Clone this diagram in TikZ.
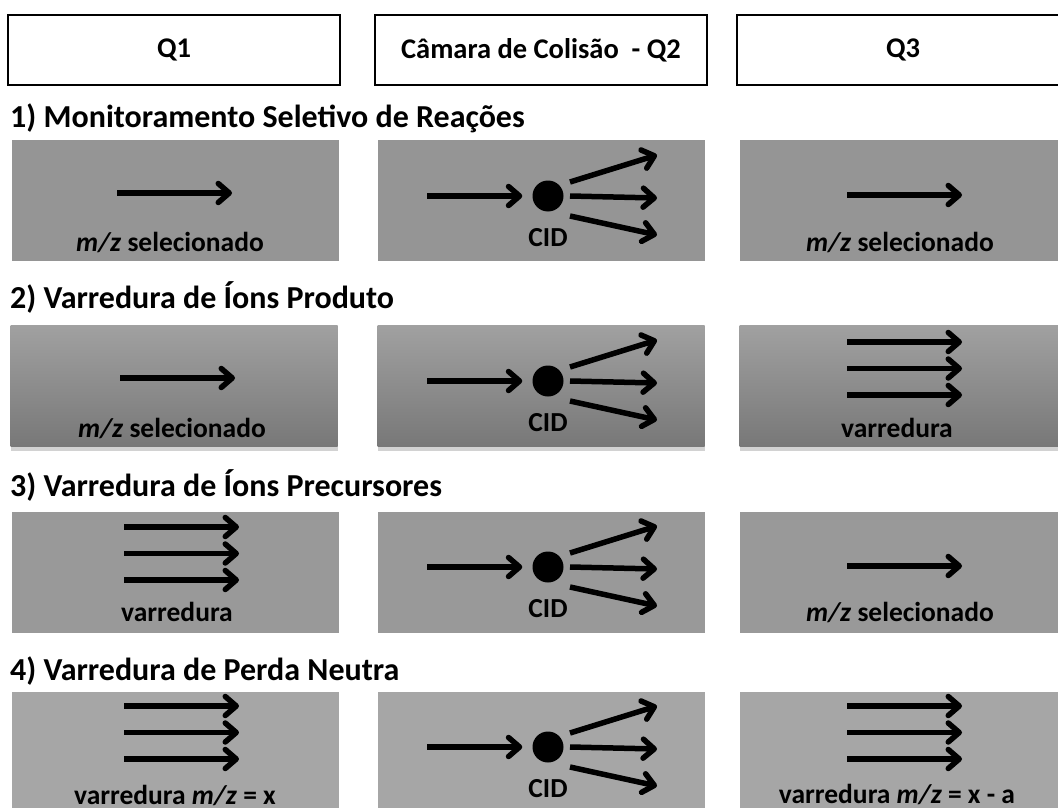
\documentclass[tikz,border=0pt]{standalone}
\usepackage{fontspec}
\setmainfont{Carlito}
\usetikzlibrary{arrows.meta,shadows}
\definecolor{rowone}{gray}{0.585}
\definecolor{rowtwotop}{gray}{0.63}
\definecolor{rowtwobot}{gray}{0.47}
\definecolor{rowthree}{gray}{0.60}
\definecolor{rowfour}{gray}{0.65}
\tikzset{
  arr/.style={line width=5.5pt,-{Straight Barb[line join=round,line cap=round,length=11pt,width=19pt]}},
  hdr/.style={draw=black,line width=2.5pt,fill=white,minimum width=332pt,minimum height=70pt,inner sep=0pt,font=\fontsize{28.5}{33}\selectfont\bfseries},
  heading/.style={anchor=west,inner sep=0pt,font=\fontsize{32}{37}\selectfont\bfseries},
  panel/.style={inner sep=0pt,minimum width=327pt,minimum height=121pt},
  flatpanel/.style={panel,fill=#1},
  gradpanel/.style={panel,top color=rowtwotop,bottom color=rowtwobot,drop shadow={shadow xshift=0pt,shadow yshift=-4pt,opacity=0.35}},
  lbl/.style={inner sep=0pt,font=\fontsize{27.5}{32}\selectfont\bfseries},
  dot/.style={circle,fill=black,inner sep=0pt,minimum size=31pt},
  pics/onearrow/.style={code={
    \coordinate (-s) at (-58,0);
    \coordinate (-e) at (57,0);
    \draw[arr] (-s) -- (-e);
  }},
  pics/threearrow/.style={code={
    \foreach \k/\dy in {a/0,b/26.5,c/53}{
      \coordinate (-s\k) at (-58,\dy);
      \coordinate (-e\k) at (57,\dy);
      \draw[arr] (-s\k) -- (-e\k);
    }
  }},
  pics/cid/.style={code={
    \node[dot] (-dot) at (6,0) {};
    \coordinate (-in) at (-115,0);
    \draw[arr,shorten >=10pt] (-in) -- (-dot.west);
    \coordinate (-ua) at (28,-14);  \coordinate (-ub) at (115,-41);
    \coordinate (-ma) at (28,0);    \coordinate (-mb) at (115,2);
    \coordinate (-la) at (28,20);   \coordinate (-lb) at (115,39);
    \draw[arr] (-ua) -- (-ub);
    \draw[arr] (-ma) -- (-mb);
    \draw[arr] (-la) -- (-lb);
    \node[lbl] (-lab) at (6,42) {CID};
  }}
}
\begin{document}
\begin{tikzpicture}[x=1pt,y=-1pt]
\useasboundingbox (0,0) rectangle (1058,808);
\clip (0,0) rectangle (1058,808);
\fill[white] (0,0) rectangle (1058,808);

% header boxes
\node[hdr] (h1) at (174,50) {Q1};
\node[hdr] (h2) at (541,50) {Câmara de Colisão\ \ - Q2};
\node[hdr] (h3) at (903,50) {Q3};

% headings
\node[heading] (t1) at (10,118) {1) Monitoramento Seletivo de Reações};
\node[heading] (t2) at (10,297) {2) Varredura de Íons Produto};
\node[heading] (t3) at (10,485) {3) Varredura de Íons Precursores};
\node[heading] (t4) at (10,671) {4) Varredura de Perda Neutra};

% row 1
\node[flatpanel=rowone] (p11) at (175.5,200) {};
\node[flatpanel=rowone] (p12) at (541.5,200) {};
\node[flatpanel=rowone] (p13) at (903,200) {};
\pic (a11) at (175,193) {onearrow};
\node[lbl] (l11) at (170,242) {\textit{m/z} selecionado};
\pic (a12) at (542,196) {cid};
\pic (a13) at (905,195) {onearrow};
\node[lbl] (l13) at (900,242) {\textit{m/z} selecionado};

% row 2
\node[gradpanel] (p21) at (174,386) {};
\node[gradpanel] (p22) at (541,386) {};
\node[gradpanel] (p23) at (903,386) {};
\pic (a21) at (178,378) {onearrow};
\node[lbl] (l21) at (172,428) {\textit{m/z} selecionado};
\pic (a22) at (542,381) {cid};
\pic (a23) at (905,342) {threearrow};
\node[lbl] (l23) at (897,428) {varredura};

% row 3
\node[flatpanel=rowthree] (p31) at (175.5,572.5) {};
\node[flatpanel=rowthree] (p32) at (541.5,572.5) {};
\node[flatpanel=rowthree] (p33) at (903,572.5) {};
\pic (a31) at (182,527) {threearrow};
\node[lbl] (l31) at (177,612) {varredura};
\pic (a32) at (542,567) {cid};
\pic (a33) at (905,566) {onearrow};
\node[lbl] (l33) at (900,612) {\textit{m/z} selecionado};

% row 4
\node[flatpanel=rowfour] (p41) at (175.5,752.5) {};
\node[flatpanel=rowfour] (p42) at (541.5,752.5) {};
\node[flatpanel=rowfour] (p43) at (903,752.5) {};
\pic (a41) at (182,706) {threearrow};
\node[lbl] (l41) at (175,795) {varredura \textit{m/z} = x};
\pic (a42) at (542,747) {cid};
\pic (a43) at (905,706) {threearrow};
\node[lbl] (l43) at (897,794) {varredura \textit{m/z} = x - a};
\end{tikzpicture}
\end{document}
